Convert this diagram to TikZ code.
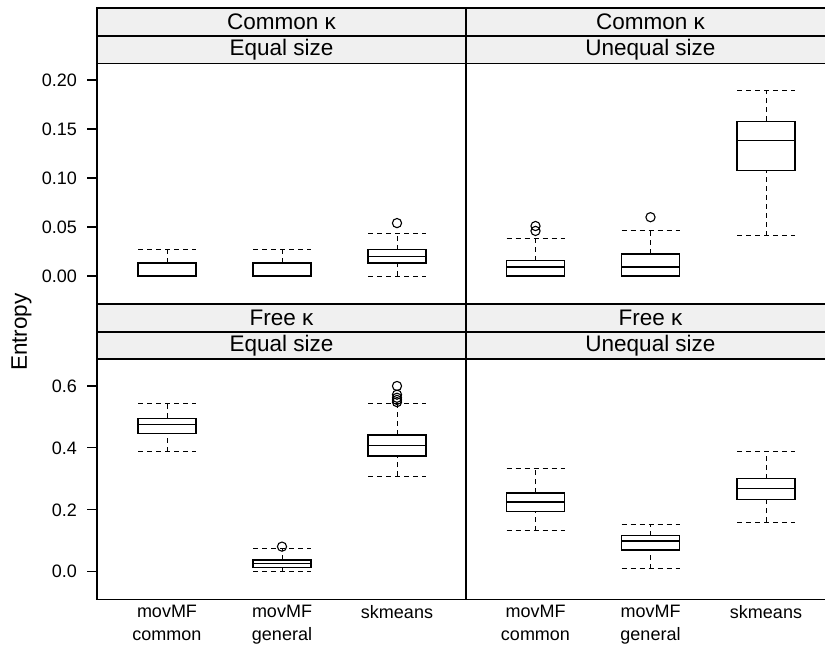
\documentclass[tikz,border=0pt]{standalone}
\usepackage{fontspec}
\setmainfont{Liberation Sans}
\definecolor{stripgray}{RGB}{240,240,240}
\newcommand\bwp[7]{%
  \draw[wh] ({#1-29},{#2(#3)}) -- ({#1+29},{#2(#3)});
  \draw[wh] (#1,{#2(#3)}) -- (#1,{#2(#4)});
  \draw[wh] (#1,{#2(#6)}) -- (#1,{#2(#7)});
  \draw[wh] ({#1-29},{#2(#7)}) -- ({#1+29},{#2(#7)});
  \draw[bx] ({#1-29},{#2(#4)}) rectangle ({#1+29},{#2(#6)});
  \draw[bx] ({#1-29},{#2(#5)}) -- ({#1+29},{#2(#5)});
}
\newcommand\outp[3]{\draw[outl] (#1,{#2(#3)}) circle[radius=4.6pt];}
\begin{document}
\begin{tikzpicture}[x=1pt,y=-1pt,
  declare function={ta(\v)=276-980*\v; tb(\v)=571.7-309.5*\v;},
  panelframe/.style={line width=1.4pt},
  stripbox/.style={fill=stripgray, draw=black, line width=1.1pt},
  wh/.style={line width=1pt, dash pattern=on 5pt off 4pt},
  bx/.style={line width=1.2pt},
  outl/.style={line width=1.1pt},
  ytickline/.style={line width=1.1pt},
  ticklab/.style={anchor=east, font=\fontsize{18}{20}\selectfont, inner sep=0},
  striplab/.style={font=\fontsize{22.5}{24}\selectfont, inner sep=0},
  catlab/.style={font=\fontsize{18}{23}\selectfont, inner sep=0, align=center, anchor=north}]
\clip (0,0) rectangle (825,648);
\fill[white] (0,0) rectangle (825,648);
% strips
\draw[stripbox] (97,8) rectangle (466,36);
\draw[stripbox] (97,36) rectangle (466,63.5);
\draw[stripbox] (466,8) rectangle (835,36);
\draw[stripbox] (466,36) rectangle (835,63.5);
\draw[stripbox] (97,304) rectangle (466,332);
\draw[stripbox] (97,332) rectangle (466,359);
\draw[stripbox] (466,304) rectangle (835,332);
\draw[stripbox] (466,332) rectangle (835,359);
\node[striplab] (s1) at (281.5,22) {Common κ};
\node[striplab] (s2) at (281.5,49.7) {Equal size};
\node[striplab] (s3) at (650.5,22) {Common κ};
\node[striplab] (s4) at (650.5,49.7) {Unequal size};
\node[striplab] (s5) at (281.5,318) {Free κ};
\node[striplab] (s6) at (281.5,345.5) {Equal size};
\node[striplab] (s7) at (650.5,318) {Free κ};
\node[striplab] (s8) at (650.5,345.5) {Unequal size};
% panels
\draw[panelframe] (97,63.5) rectangle (466,303.5);
\draw[panelframe] (466,63.5) rectangle (835,303.5);
\draw[panelframe] (97,359) rectangle (466,599.5);
\draw[panelframe] (466,359) rectangle (835,599.5);
% y ticks
\foreach \v/\t in {0/0.00,0.05/0.05,0.1/0.10,0.15/0.15,0.2/0.20}{
  \draw[ytickline] (87,{ta(\v)}) -- (97,{ta(\v)});
  \node[ticklab] (ta\t) at (77,{ta(\v)}) {\t};
}
\foreach \v/\t in {0/0.0,0.2/0.2,0.4/0.4,0.6/0.6}{
  \draw[ytickline] (87,{tb(\v)}) -- (97,{tb(\v)});
  \node[ticklab] (tb\t) at (77,{tb(\v)}) {\t};
}
\node[striplab, rotate=90, anchor=base] (ylab) at (27,332) {Entropy};
% x labels
\node[catlab] (c1) at (167,605) {movMF\\common};
\node[catlab] (c2) at (282,605) {movMF\\general};
\node[catlab] (c3) at (397,605) {skmeans};
\node[catlab] (c4) at (535.5,605) {movMF\\common};
\node[catlab] (c5) at (650.5,605) {movMF\\general};
\node[catlab] (c6) at (766,605) {skmeans};
% top-left
\bwp{167}{ta}{0}{0}{0}{0.0133}{0.027}
\bwp{282}{ta}{0}{0}{0}{0.0133}{0.027}
\bwp{397}{ta}{0}{0.0133}{0.02}{0.027}{0.043}
\outp{397}{ta}{0.054}
% top-right
\bwp{535.5}{ta}{0}{0}{0.0092}{0.0156}{0.0378}
\outp{535.5}{ta}{0.051}
\outp{535.5}{ta}{0.046}
\bwp{650.5}{ta}{0}{0}{0.0092}{0.0224}{0.046}
\outp{650.5}{ta}{0.060}
\bwp{766}{ta}{0.041}{0.108}{0.138}{0.158}{0.189}
% bottom-left
\bwp{167}{tb}{0.387}{0.447}{0.475}{0.496}{0.544}
\bwp{282}{tb}{0}{0.014}{0.027}{0.038}{0.074}
\outp{282}{tb}{0.081}
\bwp{397}{tb}{0.309}{0.374}{0.407}{0.442}{0.544}
\foreach \o in {0.600,0.572,0.562,0.555,0.548}{\outp{397}{tb}{\o}}
% bottom-right
\bwp{535.5}{tb}{0.132}{0.195}{0.225}{0.254}{0.332}
\bwp{650.5}{tb}{0.0097}{0.070}{0.099}{0.116}{0.151}
\bwp{766}{tb}{0.160}{0.234}{0.268}{0.300}{0.387}
\end{tikzpicture}
\end{document}
